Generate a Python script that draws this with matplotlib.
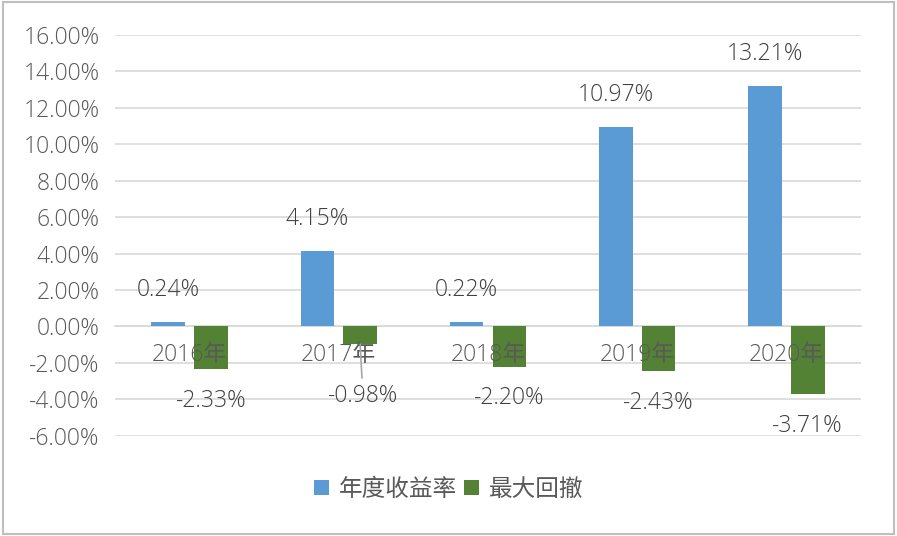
import matplotlib.pyplot as plt
from matplotlib.patches import Rectangle
import numpy as np

plt.rcParams['font.family'] = ['Open Sans', 'Noto Sans CJK SC', 'DejaVu Sans']
plt.rcParams['font.weight'] = 'light'

years = ['2016年', '2017年', '2018年', '2019年', '2020年']
annual_return = [0.24, 4.15, 0.22, 10.97, 13.21]
max_drawdown = [-2.33, -0.98, -2.20, -2.43, -3.71]
series_names = ['年度收益率', '最大回撤']

blue = '#5B9BD5'
green = '#548235'
grid_c = '#D9D9D9'
tick_c = '#595959'
label_c = '#404040'

fig = plt.figure(figsize=(8.97, 5.36), dpi=100)
ax = fig.add_axes([0.1282, 0.1871, 0.8317, 0.7476])

x = np.arange(len(years))
w = 0.225
b1 = ax.bar(x - 0.143, annual_return, w, color=blue, label=series_names[0], zorder=2)
b2 = ax.bar(x + 0.143, max_drawdown, w, color=green, label=series_names[1], zorder=2)

ax.set_xlim(-0.5, len(years) - 0.5)
ax.set_ylim(-6, 16)
ax.set_yticks(np.arange(-6, 17, 2))
ax.set_yticklabels([f'{v:.2f}%' for v in np.arange(-6, 17, 2)])
ax.yaxis.grid(True, color=grid_c, linewidth=1.2, zorder=0)
ax.set_axisbelow(True)

for s in ['top', 'right', 'left']:
    ax.spines[s].set_visible(False)
ax.spines['bottom'].set_position(('data', 0))
ax.spines['bottom'].set_color(grid_c)
ax.spines['bottom'].set_linewidth(1.2)
ax.spines['bottom'].set_zorder(1)

ax.set_xticks(x)
ax.set_xticklabels(years)
ax.tick_params(axis='x', length=0, pad=12, labelsize=16.5, labelcolor=tick_c)
ax.tick_params(axis='y', length=0, pad=11, labelsize=16.5, labelcolor=tick_c)
ax.xaxis.set_zorder(5)

for xi, v in zip(x - 0.143, annual_return):
    ax.annotate(f'{v:.2f}%', (xi, v), xytext=(0, 23), textcoords='offset points',
                ha='center', va='center', fontsize=16.5, color=label_c, zorder=6)

for i, (xi, v) in enumerate(zip(x + 0.143, max_drawdown)):
    if i == 1:
        # label moved down by hand, with a leader line
        ax.annotate(f'{v:.2f}%', (xi, v), xytext=(2, -37), textcoords='offset points',
                    ha='center', va='center', fontsize=16.5, color=label_c, zorder=6,
                    arrowprops=dict(arrowstyle='-', color='#A6A6A6', lw=1.2,
                                    shrinkA=2, shrinkB=0))
    else:
        ax.annotate(f'{v:.2f}%', (xi, v), xytext=(0, -23), textcoords='offset points',
                    ha='center', va='center', fontsize=16.5, color=label_c, zorder=6)

leg = fig.legend(handles=[b1, b2], labels=series_names, loc='center',
                 bbox_to_anchor=(0.5, 0.086), ncol=2, frameon=False,
                 fontsize=17, handlelength=0.65, handleheight=0.65,
                 handletextpad=0.4, columnspacing=0.3, labelcolor=tick_c)

fig.patches.append(Rectangle((0.003, 0.004), 0.994, 0.992, transform=fig.transFigure,
                             fill=False, edgecolor='#BFBFBF', linewidth=1.5))

fig.savefig('out.png', dpi=100)
